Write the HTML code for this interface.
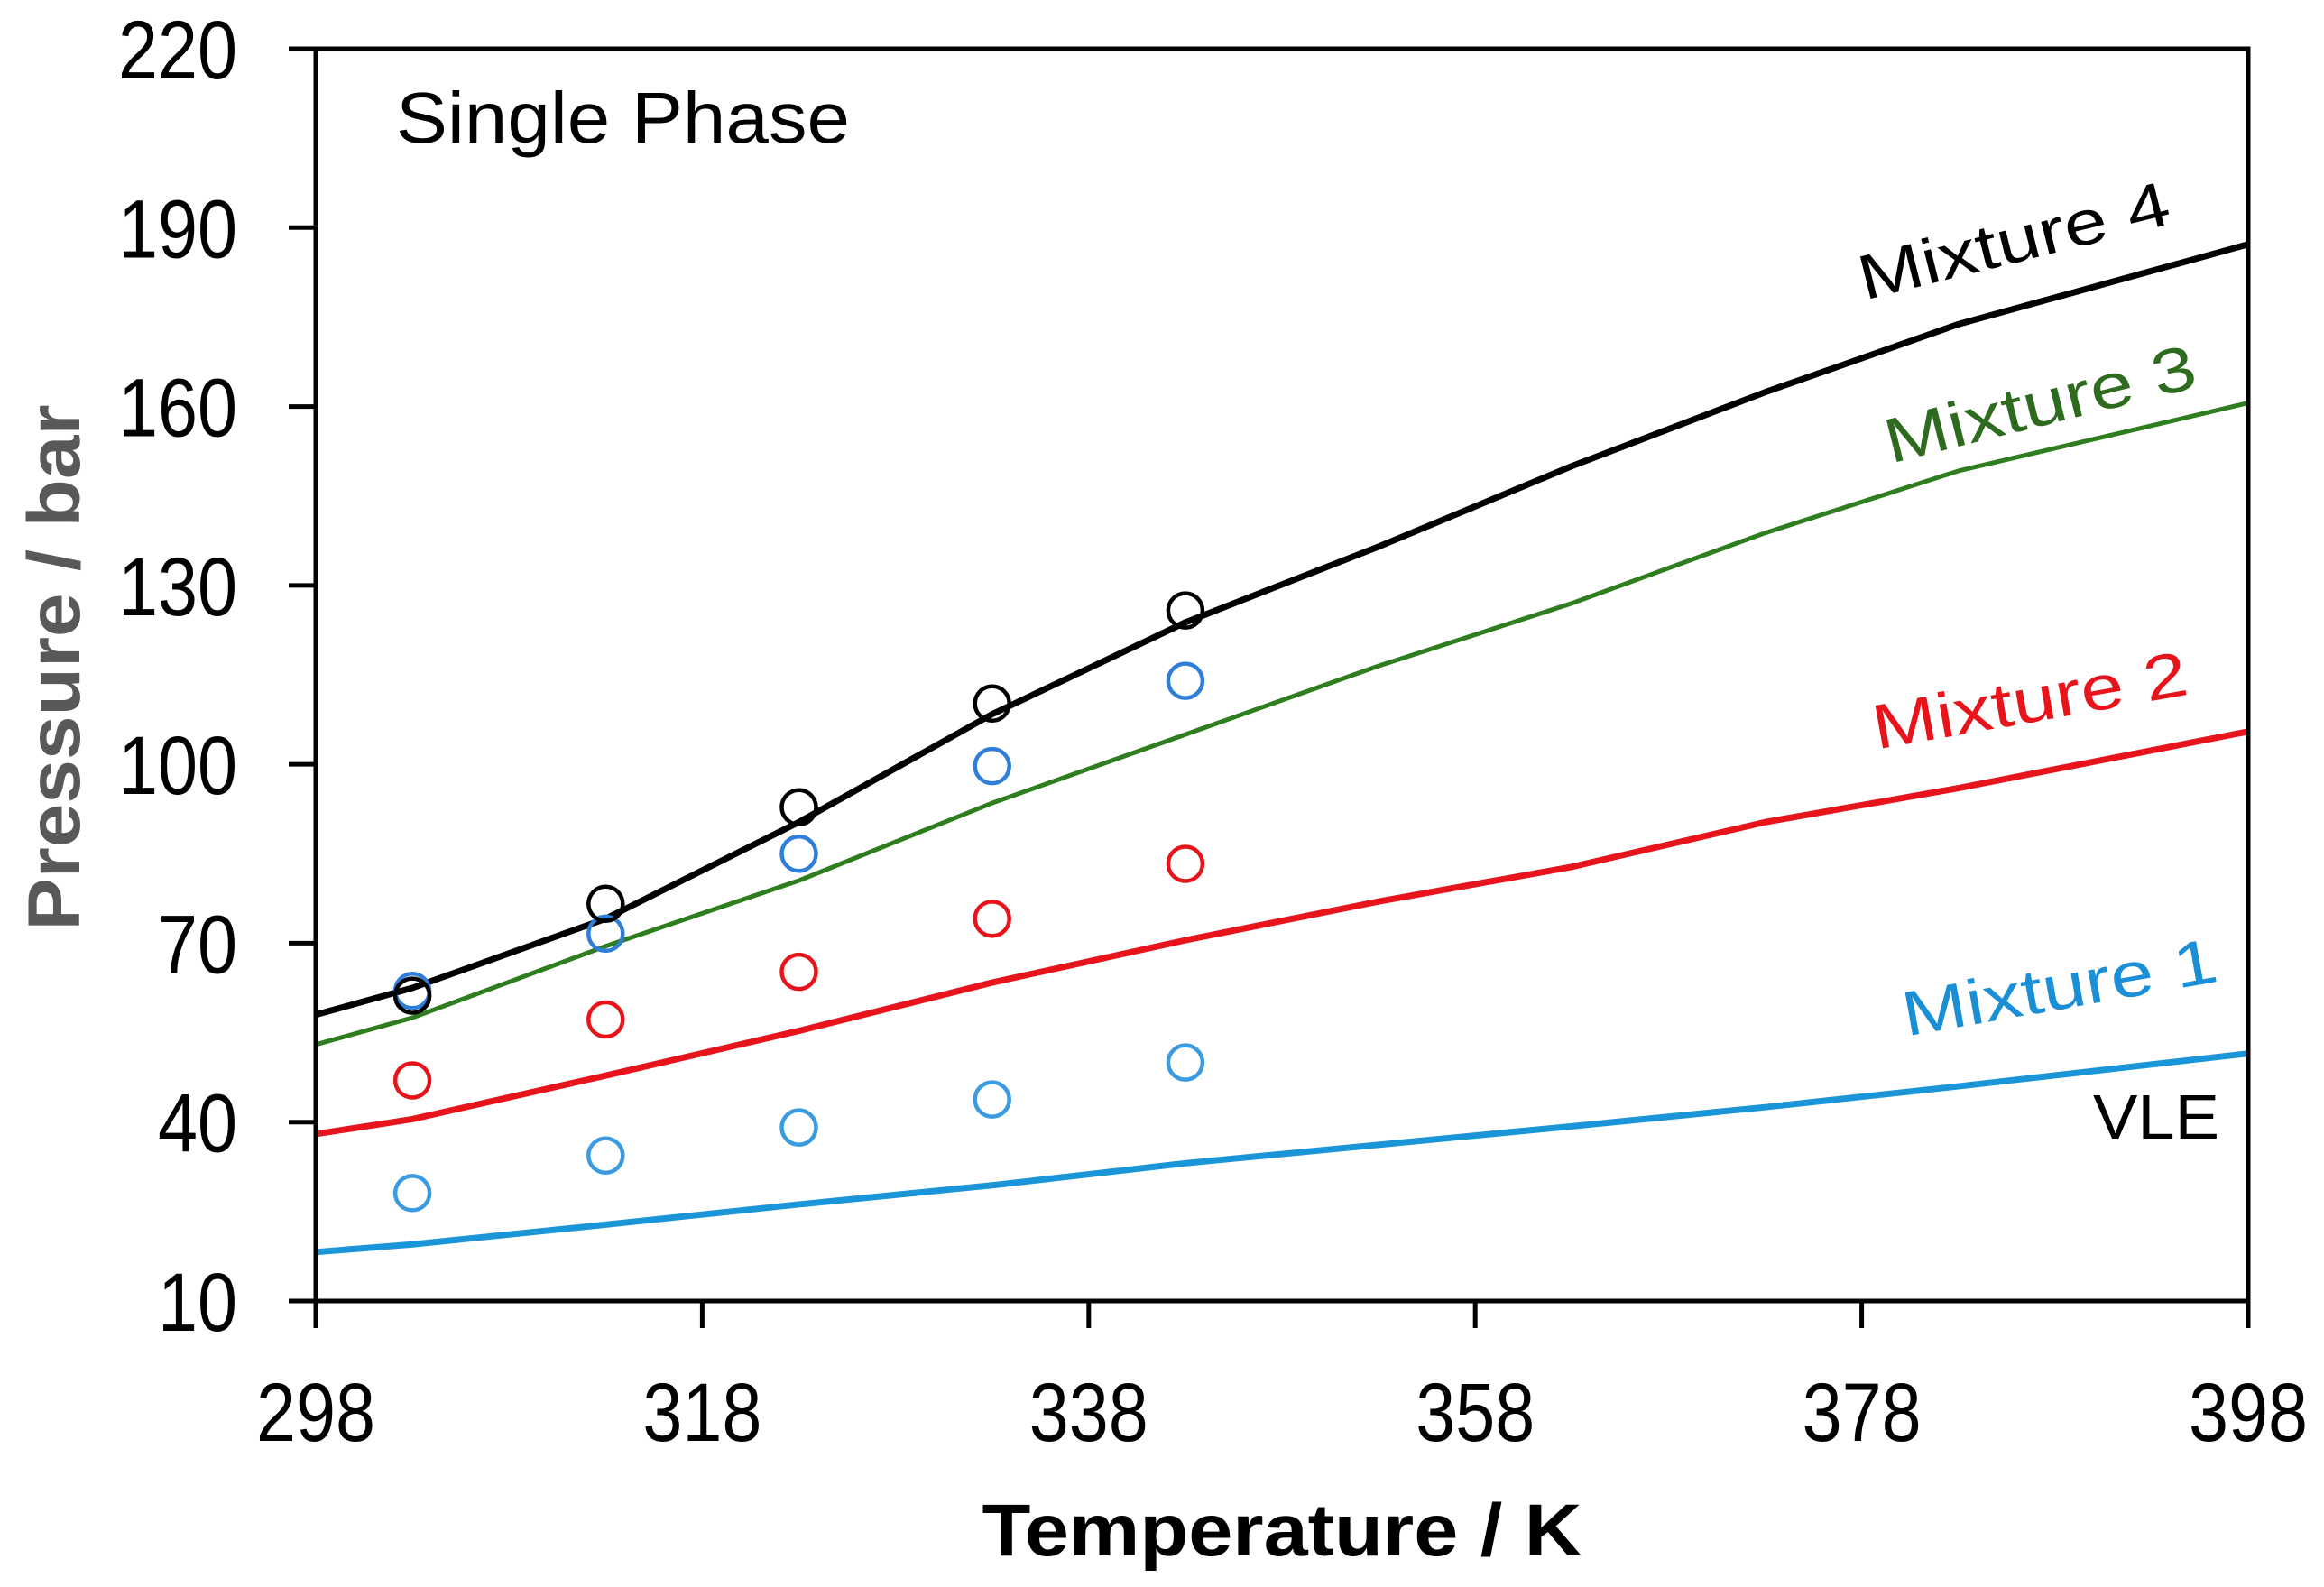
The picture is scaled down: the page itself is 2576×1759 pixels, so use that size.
<!DOCTYPE html>
<html><head><meta charset="utf-8"><style>
html,body{margin:0;padding:0;background:#fff}
svg{display:block}
text{font-family:"Liberation Sans",sans-serif}
</style></head><body>
<svg id="chart" width="2576" height="1759" viewBox="0 0 2576 1759" xmlns="http://www.w3.org/2000/svg">
<g id="grid"></g>
<g id="series"></g>
<g id="axes"></g>
<g id="labels"></g>
</svg>
<script>
const xTicks=[298,318,338,358,378,398];
const yTicks=[10,40,70,100,130,160,190,220];
const expT=[303,313,323,333,343];
const exp4=[61.2,76.6,92.8,110.2,125.8];
const exp3=[62,71.6,85,99.7,114];
const exp2=[47,57.2,65.2,74.1,83.3];
const exp1=[28.1,34.4,39.1,43.8,50];
const lineT=[298,303,313,323,333,343,353,363,373,383,398];
const line4=[58,62.5,74.1,90.3,108.4,123.8,136.5,150,162.4,173.8,187.2];
const line3=[53,57.5,69.5,80.5,93.5,105,116.5,127,138.8,149.2,160.6];
const line2=[38,40.5,47.8,55.3,63.4,70.5,77,82.8,90.3,96,105.5];
const line1=[18.2,19.5,22.8,26.2,29.4,33.1,36.2,39.3,42.5,46,51.5];

const X0=350,X1=2492,Y0=1442,Y1=54;
const xs=v=>X0+(v-298)/(398-298)*(X1-X0);
const ys=v=>Y0-(v-10)/(220-10)*(Y0-Y1);
const NS="http://www.w3.org/2000/svg";
function mk(tag,attrs,parent){const e=document.createElementNS(NS,tag);for(const k in attrs)e.setAttribute(k,attrs[k]);parent.appendChild(e);return e;}
const series=document.getElementById('series'),axes=document.getElementById('axes'),labels=document.getElementById('labels');

const lines=[[line1,'#1a96d8','vle-line-mixture-1'],[line2,'#e8141c','vle-line-mixture-2'],[line3,'#2e7d1e','vle-line-mixture-3'],[line4,'#000','vle-line-mixture-4']];
lines.forEach(([arr,c,n])=>{
  const p=mk('polyline',{points:arr.map((v,i)=>xs(lineT[i])+','+ys(v)).join(' '),fill:'none',stroke:c,'stroke-width':n.endsWith('3')?5:7,'stroke-linejoin':'round'},series);
  
  
});
const pts=[[exp1,'#3a9be0','data-points-mixture-1'],[exp2,'#e8141c','data-points-mixture-2'],[exp3,'#2f7fd8','data-points-mixture-3'],[exp4,'#000','data-points-mixture-4']];
pts.forEach(([arr,c,n])=>{
  const g=mk('g',{},series);
  
  
  arr.forEach((v,i)=>{
    const ci=mk('circle',{cx:xs(expT[i]),cy:ys(v),r:19,fill:'none',stroke:c,'stroke-width':4.5},g);
    
    
  });
});
const fr=mk('rect',{x:X0,y:Y1,width:X1-X0,height:Y0-Y1,fill:'none',stroke:'#000','stroke-width':5},axes);


yTicks.forEach(v=>{
  const t=mk('line',{x1:X0-30,x2:X0,y1:ys(v),y2:ys(v),stroke:'#000','stroke-width':5},axes);
  
  
  const l=mk('text',{x:263,y:ys(v)+33,'text-anchor':'end','font-size':92,fill:'#000',textLength:String(v).length*44,lengthAdjust:'spacingAndGlyphs'},labels);
  l.textContent=v;
  
  
});
xTicks.forEach(v=>{
  const t=mk('line',{x1:xs(v),x2:xs(v),y1:Y0,y2:Y0+30,stroke:'#000','stroke-width':5},axes);
  
  
  const l=mk('text',{x:xs(v),y:1597,'text-anchor':'middle','font-size':92,fill:'#000',textLength:132,lengthAdjust:'spacingAndGlyphs'},labels);
  l.textContent=v;
  
  
});
function txt(s,attrs,name){const e=mk('text',attrs,labels);e.textContent=s;return e;}
txt('Temperature / K',{x:1421,y:1724,'text-anchor':'middle','font-size':82,'font-weight':'bold',fill:'#000',textLength:665,lengthAdjust:'spacingAndGlyphs'},'x-axis-title');
txt('Pressure / bar',{x:0,y:0,transform:'translate(88,740) rotate(-90)','text-anchor':'middle','font-size':82,'font-weight':'bold',fill:'#595959',textLength:583,lengthAdjust:'spacingAndGlyphs'},'y-axis-title');
txt('Single Phase',{x:439,y:158,'font-size':80,fill:'#000',textLength:503,lengthAdjust:'spacingAndGlyphs'},'single-phase-label');
txt('Mixture 4',{x:0,y:0,transform:'translate(2238,290) rotate(-14)','text-anchor':'middle','font-size':70,fill:'#000',textLength:353,lengthAdjust:'spacingAndGlyphs'},'mixture-4-label');
txt('Mixture 3',{x:0,y:0,transform:'translate(2267,471) rotate(-14)','text-anchor':'middle','font-size':70,fill:'#2e6b1e',textLength:353,lengthAdjust:'spacingAndGlyphs'},'mixture-3-label');
txt('Mixture 2',{x:0,y:0,transform:'translate(2254,800) rotate(-10)','text-anchor':'middle','font-size':70,fill:'#e8141c',textLength:353,lengthAdjust:'spacingAndGlyphs'},'mixture-2-label');
txt('Mixture 1',{x:0,y:0,transform:'translate(2287,1118) rotate(-10)','text-anchor':'middle','font-size':70,fill:'#1a8fd6',textLength:353,lengthAdjust:'spacingAndGlyphs'},'mixture-1-label');
txt('VLE',{x:2460,y:1262,'text-anchor':'end','font-size':70,fill:'#000',textLength:140,lengthAdjust:'spacingAndGlyphs'},'vle-label');
</script>
</body></html>
